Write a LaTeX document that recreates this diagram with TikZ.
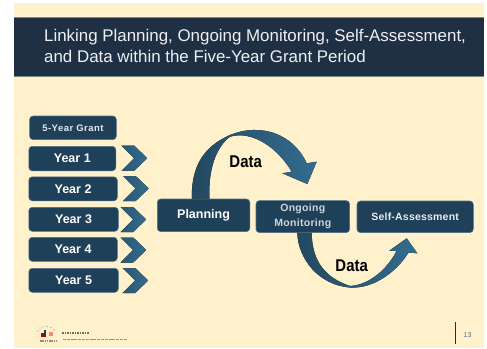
\documentclass[tikz,border=0pt]{standalone}
\usepackage{fontspec}
\setmainfont{Liberation Sans}
\definecolor{cream}{HTML}{FEF1CC}
\definecolor{band}{HTML}{1F3044}
\definecolor{boxfill}{HTML}{1F4059}
\definecolor{boxline}{HTML}{4F7088}
\definecolor{arrowdark}{HTML}{234860}
\definecolor{arrowlight}{HTML}{346C8F}
\tikzset{
 bluebox/.style={draw=boxline,line width=.6pt,fill=boxfill,rounded corners=3.5pt,inner sep=0pt,anchor=north west,align=center,text=white,font=\bfseries\fontsize{12.5}{14}\selectfont},
 chev/.style={left color=arrowdark!60!arrowlight,right color=arrowlight,draw=none},
 bigarrow/.style={left color=arrowdark,right color=arrowlight,draw=none},
 datalabel/.style={inner sep=0pt,font=\bfseries\fontsize{17}{19}\selectfont\addfontfeature{FakeStretch=0.88},text=black},
}
\newcommand{\ChevronAt}[2]{\fill[chev] (#1,#2) -- ++(12.5,0) -- ++(13,12.5) -- ++(-13,12.5) -- ++(-12.5,0) -- ++(12.5,-12.5) -- cycle;}
\newcommand{\BoxAt}[6]{\node[bluebox,minimum width=#3pt,minimum height=#4pt] (#5) at (#1,#2) {#6};}
\begin{document}
\begin{tikzpicture}[x=1pt,y=-1pt]
\useasboundingbox (0,0) rectangle (487,348);
\fill[white] (0,0) rectangle (487,348);
\fill[cream] (14,3) rectangle (484,348);
\fill[band] (14,17.5) rectangle (484,76);
\draw[color=band!55!cream,line width=.7pt] (14,17.5) -- (484,17.5) (14,76) -- (484,76);
\node[anchor=base west,inner sep=0pt,text=white!93!band,align=left,font=\fontsize{16.9}{20.6}\selectfont] (title) at (44,62.3) {Linking Planning, Ongoing Monitoring, Self-Assessment,\\and Data within the Five-Year Grant Period};

\BoxAt{157}{198.7}{92.5}{32.6}{plan}{\fontsize{12.5}{14}\selectfont Planning}
\BoxAt{255.7}{200.3}{93.6}{32}{ongoing}{}
\BoxAt{356.7}{200.7}{116.3}{31.6}{self}{\fontsize{10.5}{12}\selectfont\addfontfeature{LetterSpace=2}\color{white!90!boxfill}Self-Assessment}
\node[inner sep=0pt,align=center,text=white!78!boxfill,font=\bfseries\fontsize{10.5}{15}\selectfont\addfontfeature{LetterSpace=3}] (ongoingtext) at (ongoing.center) {Ongoing\\Monitoring};

\path ([xshift=-11.7pt]plan.north) coordinate (a1);
\path ([xshift=5.9pt]plan.north) coordinate (a2);
\path ([xshift=-5.5pt]ongoing.south) coordinate (b1);
\path ([xshift=8.9pt]ongoing.south) coordinate (b2);

\fill[bigarrow] (a1) .. controls (191,165) and (205,146) .. (230,135)
  .. controls (262,122) and (294,135) .. (306.7,163.3)
  -- (316.7,161.7) -- (307.3,184) -- (282.3,173.3) -- (291.7,171.7)
  .. controls (278,148) and (252,130) .. (230,136.7)
  .. controls (216,147) and (208,170) .. (a2) -- cycle;

\fill[bigarrow] (b1) .. controls (298,258) and (318,285) .. (350,287.5)
  .. controls (375,289) and (398,270) .. (408.5,252.5)
  -- (417.3,253.3) -- (406.7,238.3) -- (389.3,250.7) -- (396.5,251)
  .. controls (388,268) and (370,285) .. (350,286)
  .. controls (326,278) and (312,262) .. (b2) -- cycle;

\node[datalabel] (d1) at (245.7,161.7) {Data};
\node[datalabel] (d2) at (351.7,265.7) {Data};

\BoxAt{29.3}{115.7}{86.7}{23.6}{grant}{\fontsize{9.5}{11}\selectfont\addfontfeature{LetterSpace=5}\color{white!88!boxfill}5-Year Grant}
\BoxAt{28.5}{146}{87}{24.5}{y1}{Year 1}
\BoxAt{28.5}{176.5}{88.5}{24}{y2}{Year 2}
\BoxAt{28.5}{207}{89.5}{24}{y3}{Year 3}
\BoxAt{28.5}{237}{88.5}{24}{y4}{Year 4}
\BoxAt{28.5}{268}{89.5}{24}{y5}{Year 5}

\ChevronAt{121.7}{145.7}
\ChevronAt{123.2}{176}
\ChevronAt{120.7}{207}
\ChevronAt{120.7}{237.5}
\ChevronAt{122.7}{268}

% footer
\draw[color=band,line width=.8pt] (455.5,322) -- (455.5,344);
\node[inner sep=0pt,text=boxline,font=\fontsize{7}{8}\selectfont] (pagenum) at (467.5,335) {13};
% logo and its illegible small print
\fill[color=red!75!black] (41,333) rectangle (45.5,337);
\fill[color=boxfill] (43.5,330) rectangle (46,336);
\fill[color=red!45!cream] (49,332) rectangle (53,336);
\foreach \px/\py in {38/331,40/328,43/327,47/326.5,51/327.5,54/330}
  \fill[color=boxline!70!cream] (\px,\py) circle (.6);
\draw[color=black!40!cream,line width=1.2pt,dash pattern=on 1.2pt off .6pt] (39.5,341) -- (57,341);
\draw[color=black!55!cream,line width=1.1pt,dash pattern=on 1.5pt off 1pt] (62,333) -- (89,333);
\draw[color=boxline!70!cream,line width=1pt,dash pattern=on 3pt off .8pt] (63,339.5) -- (127,339.5);
\end{tikzpicture}
\end{document}
